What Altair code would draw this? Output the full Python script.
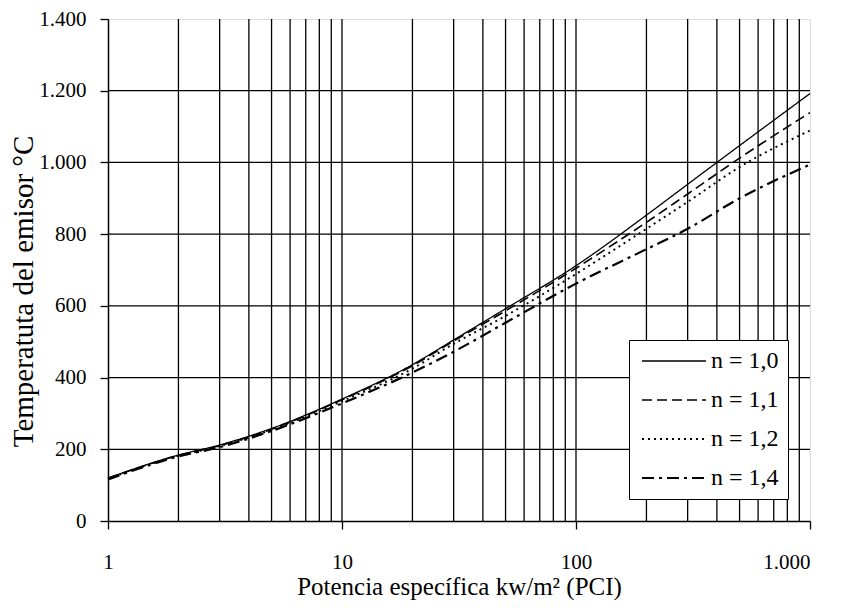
import altair as alt
import pandas as pd

# ---- data ----
x_vals = [1, 2, 3, 5, 10, 20, 30, 50, 100, 200, 300, 500, 1000]
n10 = [120, 184, 212, 258, 340, 436, 505, 592, 712, 853, 939, 1047, 1192]
n11 = [119, 183, 210, 256, 338, 433, 502, 586, 705, 833, 912, 1012, 1139]
n12 = [118, 182, 209, 254, 334, 425, 494, 572, 689, 815, 890, 987, 1089]
n14 = [116, 180, 206, 251, 328, 414, 472, 553, 662, 758, 815, 900, 994]
series_names = ["n = 1,0", "n = 1,1", "n = 1,2", "n = 1,4"]
series_vals = [n10, n11, n12, n14]

x_grid = [2, 3, 4, 5, 6, 7, 8, 9, 10, 20, 30, 40, 50, 60, 70, 80, 90,
          100, 200, 300, 400, 500, 600, 700, 800, 900]
y_grid = [200, 400, 600, 800, 1000, 1200]
x_ticks = [1, 10, 100, 1000]
y_ticks = [0, 200, 400, 600, 800, 1000, 1200, 1400]

rows = []
for name, vals in zip(series_names, series_vals):
    for xv, yv in zip(x_vals, vals):
        rows.append({"x": xv, "y": yv, "serie": name})
df = pd.DataFrame(rows)

FONT = "Liberation Serif, Times New Roman, DejaVu Serif, serif"
xscale = alt.Scale(type="log", domain=[1, 1000], nice=False)
yscale = alt.Scale(domain=[0, 1400], nice=False)

vgrid = alt.Chart(pd.DataFrame({"g": x_grid})).mark_rule(
    color="black", strokeWidth=1.3
).encode(x=alt.X("g:Q", scale=xscale))

hgrid = alt.Chart(pd.DataFrame({"g": y_grid})).mark_rule(
    color="black", strokeWidth=1.3
).encode(y=alt.Y("g:Q", scale=yscale))

lines = alt.Chart(df).mark_line(color="black", interpolate="monotone").encode(
    x=alt.X(
        "x:Q", scale=xscale,
        axis=alt.Axis(
            values=x_ticks, grid=False, domainColor="black", domainWidth=1.5,
            tickColor="black", tickSize=8, tickWidth=1.3,
            labelFont=FONT, labelFontSize=21, labelColor="black",
            labelBaseline="alphabetic", labelPadding=39,
            labelExpr="datum.value == 1000 ? '1.000' : datum.label",
            labelAlign={"expr": "datum.value == 1000 ? 'right' : 'center'"},
            labelFlush=False,
            title="Potencia específica kw/m² (PCI)",
            titleFont=FONT, titleFontSize=25, titleFontWeight="normal",
            titleColor="black", titleX=351, titleY=73,
            titleBaseline="alphabetic",
        ),
    ),
    y=alt.Y(
        "y:Q", scale=yscale,
        axis=alt.Axis(
            values=y_ticks, grid=False, domainColor="black", domainWidth=1.5,
            tickColor="black", tickSize=8, tickWidth=1.3,
            labelFont=FONT, labelFontSize=21, labelColor="black",
            labelPadding=14,
            labelExpr="replace(format(datum.value, ','), ',', '.')",
            title="Temperatuta del emisor °C",
            titleFont=FONT, titleFontSize=29, titleFontWeight="normal",
            titleColor="black", titleX=-85, titleY=272,
            titleBaseline="middle", titleAngle=-90,
        ),
    ),
    strokeDash=alt.StrokeDash(
        "serie:N",
        scale=alt.Scale(
            domain=series_names,
            range=[[1, 0], [10, 5], [2, 4], [12, 5, 3, 5]],
        ),
        legend=alt.Legend(
            title=None, orient="none", legendX=521, legendY=321,
            symbolType="M-4,0H4", symbolSize=256, symbolStrokeColor="black",
            symbolStrokeWidth=1.6,
            symbolOffset=24, labelOffset=25, padding=9,
            labelFont=FONT, labelFontSize=24, labelColor="black",
            rowPadding=15, strokeColor="black", fillColor="white",
        ),
    ),
    strokeWidth=alt.StrokeWidth(
        "serie:N",
        scale=alt.Scale(domain=series_names, range=[1.3, 2.2, 1.5, 1.4]),
        legend=None,
    ),
)

chart = alt.layer(vgrid, hgrid, lines).properties(
    width=702, height=502,
    autosize=alt.AutoSizeParams(type="none"),
    padding={"left": 100, "top": 11, "right": 23, "bottom": 79},
).configure_view(stroke="#808080", strokeWidth=1.5).configure(background="white")

chart.save("out.html", embed_options={"renderer": "svg", "actions": False})
